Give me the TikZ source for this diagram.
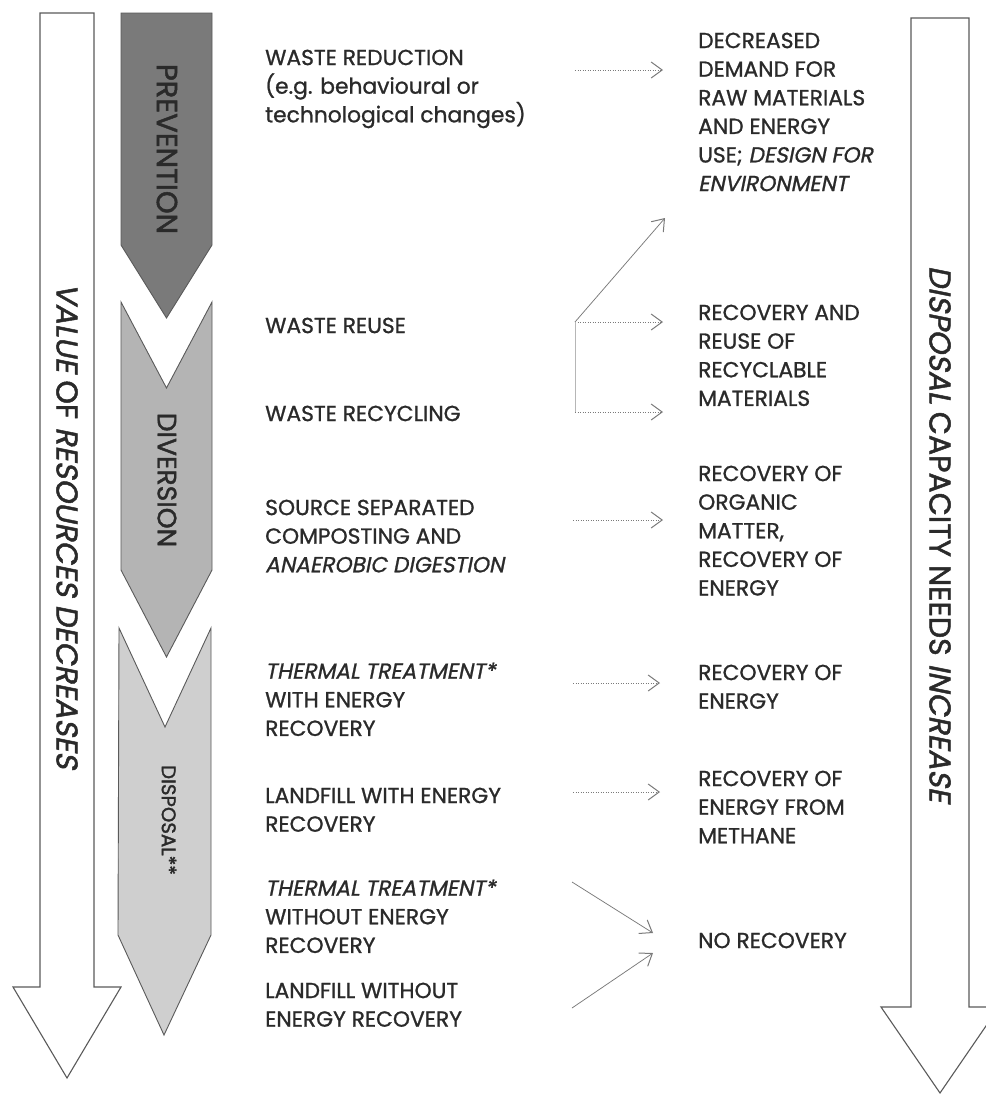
\documentclass[tikz,border=0pt]{standalone}
\usepackage{fontspec}
\setmainfont{Poppins}[FakeBold=1.0, ItalicFont=*, ItalicFeatures={FakeSlant=0.2}]
\newfontfamily\heavyfont{Poppins}[FakeBold=1.6, ItalicFont=*, ItalicFeatures={FakeSlant=0.2}]
\usetikzlibrary{arrows.meta}
\definecolor{txtc}{HTML}{2A2A2A}
\definecolor{edgec}{HTML}{5A5A5A}
\definecolor{prevc}{HTML}{7A7A7A}
\definecolor{divc}{HTML}{B4B4B4}
\definecolor{dispc}{HTML}{CFCFCF}
\definecolor{linkc}{HTML}{7A7A7A}
\tikzset{
  body/.style={anchor=north west, inner sep=0pt, align=left, text=txtc,
    font=\fontsize{21.8}{28.6}\selectfont},
  bigarrow/.style={draw=edgec, line width=1.1pt, fill=white, line join=miter},
  stage/.style={draw=edgec, line width=0.9pt, line join=miter},
  stagelabel/.style={rotate=-90, inner sep=0pt, text=txtc},
  bigtext/.style={rotate=-90, inner sep=0pt, text=txtc, font=\heavyfont\fontsize{30}{32}\selectfont},
  dotlink/.style={draw=linkc, line width=1pt, dash pattern=on 1.4pt off 1.1pt,
    -{Straight Barb[length=11pt,width=16pt,line width=1pt]}},
  solidlink/.style={draw=linkc, line width=0.75pt,
    -{Straight Barb[length=11pt,width=16pt,line width=1pt]}},
  branch/.style={draw=linkc!55, line width=0.6pt}
}
\begin{document}
\begin{tikzpicture}[x=1pt,y=-1pt]
\useasboundingbox[fill=white] (0,0) rectangle (986,1096);
% big outline arrows
\draw[bigarrow] (40,13) -- (94,13) -- (94,987) -- (121,987) -- (67,1078) -- (13,987) -- (40,987) -- cycle;
\draw[bigarrow] (911,18) -- (969,18) -- (969,1007) -- (999,1007) -- (940,1093) -- (881,1007) -- (911,1007) -- cycle;
\node[bigtext] (valuetxt) at (67,526) {\textit{VALUE} OF \textit{RESOURCES DECREASES}};
\node[bigtext] (capacitytxt) at (940,534) {\textit{DISPOSAL} CAPACITY NEEDS \textit{INCREASE}};
% stage arrows
\fill[prevc] (121,13) -- (212,13) -- (212,245) -- (166.5,318) -- (121,245) -- cycle;
\draw[stage] (121,13) -- (212,13) -- (212,245) -- (166.5,318) -- (121,245) -- cycle;
\fill[divc] (121,302) -- (166.5,388) -- (212,302) -- (212,570) -- (166.5,657) -- (121,570) -- cycle;
\draw[stage] (121,302) -- (166.5,388) -- (212,302) -- (212,570) -- (166.5,657) -- (121,570) -- cycle;
\fill[dispc] (119,628) -- (165,727) -- (211,628) -- (211,935) -- (164,1035) -- (118,935) -- cycle;
\draw[stage] (119,628) -- (165,727) -- (211,628) -- (211,935) -- (164,1035) -- (118,935) -- cycle;
\node[stagelabel, font=\heavyfont\fontsize{29}{31}\selectfont] (prev) at (167,149) {PREVENTION};
\node[stagelabel, font=\heavyfont\fontsize{26.5}{28}\selectfont] (div) at (167,480) {DIVERSION};
\node[stagelabel, font=\heavyfont\fontsize{19.7}{21}\selectfont] (disp) at (169,820) {DISPOSAL**};
% middle column
\node[body] (red) at (265,49.5) {WASTE REDUCTION\\(e.g. behavioural or\\technological changes)};
\node[body] (reuse) at (265,317.5) {WASTE REUSE};
\node[body] (recyc) at (265,405.5) {WASTE RECYCLING};
\node[body] (comp) at (265,499.5) {SOURCE SEPARATED\\COMPOSTING AND\\\textit{ANAEROBIC DIGESTION}};
\node[body] (therm1) at (265,662.5) {\textit{THERMAL TREATMENT*}\\WITH ENERGY\\RECOVERY};
\node[body] (land1) at (265,787.5) {LANDFILL WITH ENERGY\\RECOVERY};
\node[body] (therm2) at (265,879.5) {\textit{THERMAL TREATMENT*}\\WITHOUT ENERGY\\RECOVERY};
\node[body] (land2) at (265,982.5) {LANDFILL WITHOUT\\ENERGY RECOVERY};
% right column
\node[body] (demand) at (698,32.5) {DECREASED\\DEMAND FOR\\RAW MATERIALS\\AND ENERGY\\USE; \textit{DESIGN FOR}\\\textit{ENVIRONMENT}};
\node[body] (recmat) at (698,304.5) {RECOVERY AND\\REUSE OF\\RECYCLABLE\\MATERIALS};
\node[body] (recorg) at (698,465.5) {RECOVERY OF\\ORGANIC\\MATTER,\\RECOVERY OF\\ENERGY};
\node[body] (recen) at (698,664.5) {RECOVERY OF\\ENERGY};
\node[body] (recmeth) at (698,770.5) {RECOVERY OF\\ENERGY FROM\\METHANE};
\node[body] (norec) at (698,932.5) {NO RECOVERY};
% connector points
\coordinate (s1) at (575,70);   \coordinate (e1) at (663,70);
\coordinate (sb) at (575,322);  \coordinate (ed) at (665,218);
\coordinate (e2) at (663,322);
\coordinate (s3) at (575,412);  \coordinate (e3) at (663,412);
\coordinate (s4) at (573,520);  \coordinate (e4) at (663,520);
\coordinate (s5) at (573,683);  \coordinate (e5) at (660,683);
\coordinate (s6) at (573,792);  \coordinate (e6) at (660,792);
\coordinate (s7) at (572,882);  \coordinate (e7) at (653,933);
\coordinate (s8) at (572,1008); \coordinate (e8) at (653,953);
% connectors
\draw[dotlink] (s1) -- (e1);
\draw[solidlink] (sb) -- (ed);
\draw[dotlink] (sb) -- (e2);
\draw[branch] (sb) -- (s3);
\draw[dotlink] (s3) -- (e3);
\draw[dotlink] (s4) -- (e4);
\draw[dotlink] (s5) -- (e5);
\draw[dotlink] (s6) -- (e6);
\draw[solidlink] (s7) -- (e7);
\draw[solidlink] (s8) -- (e8);
\end{tikzpicture}
\end{document}
